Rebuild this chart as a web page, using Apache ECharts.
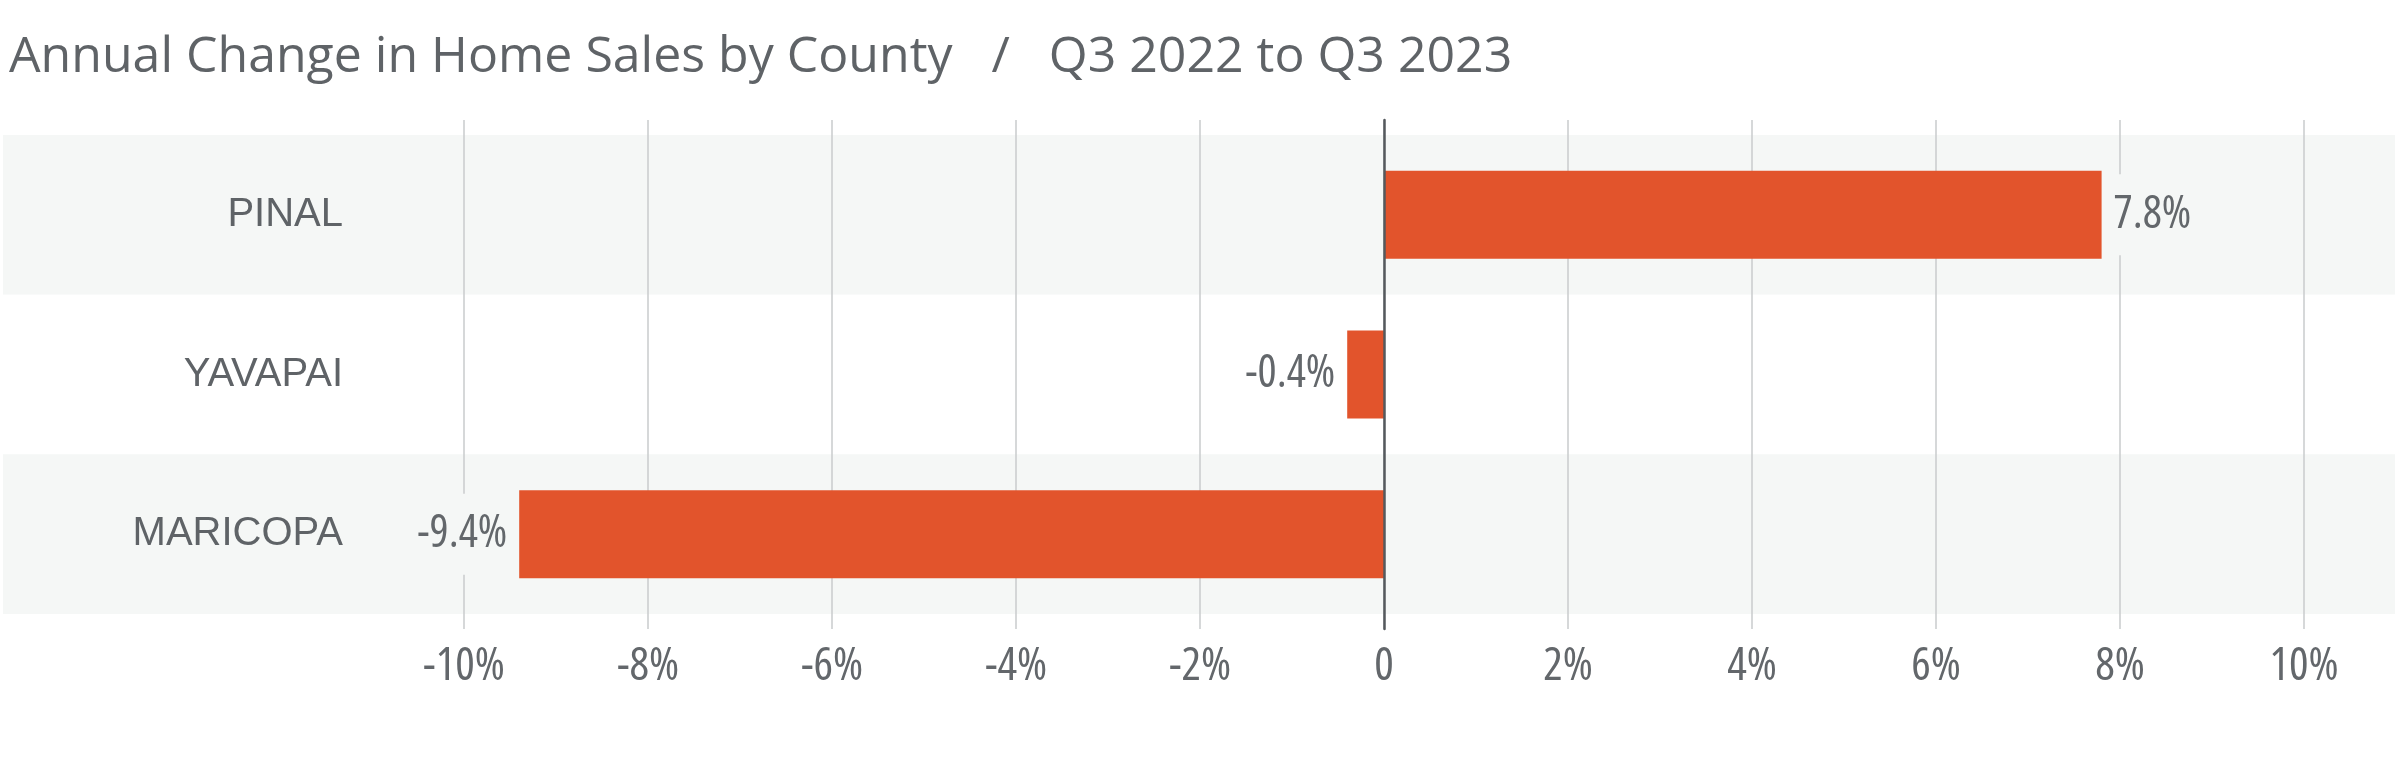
<!DOCTYPE html>
<html>
<head>
<meta charset="utf-8">
<script src="https://cdn.jsdelivr.net/npm/echarts@6/dist/echarts.min.js"></script>
<style>html,body{margin:0;padding:0;background:#fff}#c{width:2400px;height:765px}</style>
</head>
<body>
<div id="c"></div>
<script>
const titleText = 'Annual Change in Home Sales by County   /   Q3 2022 to Q3 2023';
const counties = ['PINAL', 'YAVAPAI', 'MARICOPA'];
const changes = [7.8, -0.4, -9.4];
const axisMin = -10, axisMax = 10, axisStep = 2;

const gray = '#5f6367';
const condensed = '"Open Sans", "Roboto Condensed", sans-serif';
const bandColors = ['#f5f7f6', '#ffffff'];

const chart = echarts.init(document.getElementById('c'), null, {renderer: 'canvas'});
chart.setOption({
  backgroundColor: '#ffffff',
  animation: false,
  title: {
    text: titleText, left: 4, top: 28,
    textStyle: {fontFamily: '"Open Sans", Roboto, sans-serif', fontWeight: 'normal', fontSize: 50, color: gray}
  },
  grid: [
    {left: 464, right: 96, top: 120, bottom: 136},
    {left: 464, right: 96, top: 135, bottom: 151},
    {left: 3, right: 5, top: 135, bottom: 151}
  ],
  xAxis: [
    {gridIndex: 0, type: 'value', min: axisMin, max: axisMax, interval: axisStep, z: 1,
     axisLine: {show: false}, axisTick: {show: false},
     splitLine: {show: true, lineStyle: {color: '#c9cbcc', width: 1.5}},
     axisLabel: {margin: 15, color: '#63676b', fontFamily: condensed, fontWeight: 'condensed', fontSize: 46,
       formatter: v => v === 0 ? '0' : v + '%'}},
    {gridIndex: 1, type: 'value', min: axisMin, max: axisMax, interval: axisStep, show: false},
    {gridIndex: 2, type: 'value', min: 0, max: 1, show: false}
  ],
  yAxis: [
    {gridIndex: 0, type: 'value', min: 0, max: 1, z: 5,
     axisLine: {show: true, onZero: true, lineStyle: {color: '#55595d', width: 2.5}},
     axisTick: {show: false}, axisLabel: {show: false}, splitLine: {show: false}},
    {gridIndex: 1, type: 'category', data: counties, inverse: true,
     axisLine: {show: false}, axisTick: {show: false}, splitLine: {show: false},
     axisLabel: {margin: 121, color: gray, fontFamily: '"Liberation Sans", Arial, sans-serif', fontSize: 40}},
    {gridIndex: 2, type: 'category', data: counties, inverse: true, z: 0,
     axisLine: {show: false}, axisTick: {show: false}, axisLabel: {show: false},
     splitArea: {show: true, areaStyle: {color: bandColors}}}
  ],
  series: [{
    type: 'bar', xAxisIndex: 1, yAxisIndex: 1, z: 3,
    barWidth: 88,
    itemStyle: {color: '#e2542c'},
    data: changes.map((v, i) => ({
      value: v,
      label: {
        show: true,
        position: v >= 0 ? 'right' : 'left',
        distance: 6,
        formatter: p => p.value.toFixed(1) + '%',
        color: '#63676b', fontFamily: condensed, fontWeight: 'condensed', fontSize: 45,
        backgroundColor: bandColors[i % 2],
        padding: [18, 6]
      }
    }))
  }]
});
</script>
</body>
</html>
